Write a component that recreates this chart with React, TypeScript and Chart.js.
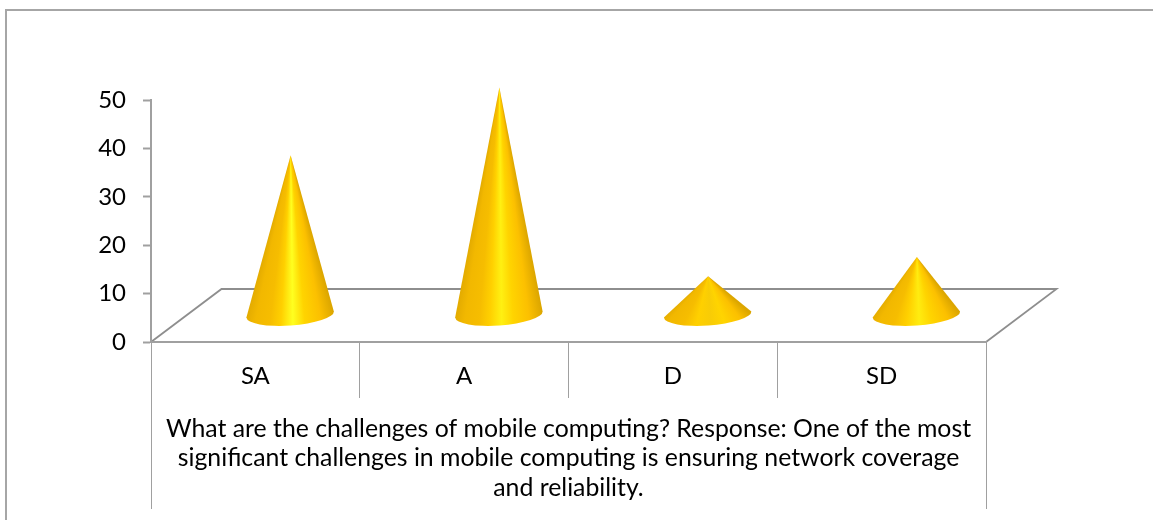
import React, { useEffect, useRef } from "react";
import { Chart, registerables } from "chart.js";

Chart.register(...registerables);

const categories = ["SA", "A", "D", "SD"];
const responses = [33, 47, 8, 12];
const coneHighlights = ["#ffff20", "#fff012", "#f8cc06", "#ffec10"];
const axisTitle = [
  "What are the challenges of mobile computing? Response: One of the most",
  "significant challenges in mobile computing is ensuring network coverage",
  "and reliability.",
];

const FONT = "Lato, Carlito, Calibri, sans-serif";
const AXIS_GRAY = "#a0a0a0";
const FLOOR_GRAY = "#8e8e8e";
const DEPTH_X = 70.5;
const DEPTH_Y = 53;

const conePlugin = {
  id: "cones",
  beforeDraw(chart: any) {
    const { ctx, width, height, chartArea: a } = chart;
    ctx.save();
    ctx.fillStyle = "#ffffff";
    ctx.fillRect(0, 0, width, height);
    // outer frame: top and left only
    ctx.strokeStyle = "#a6a6a6";
    ctx.lineWidth = 2;
    ctx.beginPath();
    ctx.moveTo(6, height);
    ctx.lineTo(6, 10);
    ctx.lineTo(width, 10);
    ctx.stroke();
    // floor
    ctx.strokeStyle = FLOOR_GRAY;
    ctx.lineWidth = 1.8;
    ctx.beginPath();
    ctx.moveTo(a.left, a.bottom);
    ctx.lineTo(a.left + DEPTH_X, a.bottom - DEPTH_Y);
    ctx.lineTo(a.right + DEPTH_X, a.bottom - DEPTH_Y);
    ctx.lineTo(a.right, a.bottom);
    ctx.stroke();
    // outer table lines
    ctx.strokeStyle = AXIS_GRAY;
    ctx.lineWidth = 1;
    ctx.beginPath();
    ctx.moveTo(Math.floor(a.left) + 0.5, a.bottom);
    ctx.lineTo(Math.floor(a.left) + 0.5, 509);
    ctx.moveTo(Math.floor(a.right) + 0.5, a.bottom);
    ctx.lineTo(Math.floor(a.right) + 0.5, 509);
    ctx.stroke();
    ctx.restore();
  },
  afterDatasetsDraw(chart: any) {
    const { ctx } = chart;
    const meta = chart.getDatasetMeta(0);
    meta.data.forEach((bar: any, i: number) => {
      const rx = bar.width / 2;
      const ry = 11;
      const tilt = (-4 * Math.PI) / 180;
      const cx = bar.x + DEPTH_X / 2 - 0.5;
      const lift = DEPTH_Y / 2 + 0.5;
      const baseY = bar.base - lift;
      const apexY = bar.y - lift;
      const dx = rx * Math.cos(tilt);
      const dy = rx * Math.sin(tilt);
      const apexX = cx + 0.5;
      // shading fans out from the apex, so the highlight narrows towards the tip
      const g = ctx.createConicGradient(0, apexX, apexY);
      const hi = coneHighlights[i];
      const shades: [number, string][] = [
        [0, "#e2aa00"],
        [0.12, "#f2b800"],
        [0.28, "#f6bd00"],
        [0.4, "#ffd000"],
        [0.53, hi],
        [0.66, "#ffd400"],
        [0.84, "#fcc000"],
        [1, "#dca600"],
      ];
      for (let k = shades.length - 1; k >= 0; k--) {
        const [t, color] = shades[k];
        const bx = cx - rx + 2 * rx * t;
        const ang = Math.atan2(baseY - apexY, bx - apexX);
        g.addColorStop(ang / (2 * Math.PI), color);
      }
      ctx.save();
      ctx.fillStyle = g;
      ctx.beginPath();
      ctx.moveTo(apexX, apexY);
      ctx.lineTo(cx + dx, baseY + dy);
      ctx.ellipse(cx, baseY, rx, ry, tilt, 0, Math.PI, false);
      ctx.closePath();
      ctx.fill();
      ctx.restore();
    });
  },
};

export default function App() {
  const ref = useRef<HTMLCanvasElement>(null);
  useEffect(() => {
    const chart = new Chart(ref.current!, {
      type: "bar",
      data: {
        labels: categories,
        datasets: [
          {
            label: "Responses",
            data: responses,
            backgroundColor: "rgba(0,0,0,0)",
            borderWidth: 0,
            categoryPercentage: 1,
            barPercentage: 0.42,
          },
        ],
      },
      plugins: [conePlugin],
      options: {
        responsive: false,
        animation: false,
        layout: { padding: { top: 100, right: 167, left: 0, bottom: 0 } },
        plugins: { legend: { display: false }, tooltip: { enabled: false }, title: { display: false } },
        scales: {
          y: {
            min: 0,
            max: 50,
            afterFit: (s: any) => {
              s.width = 151;
            },
            ticks: {
              stepSize: 10,
              color: "#000000",
              padding: 17,
              font: { family: FONT, size: 24 },
            },
            border: { display: true, color: AXIS_GRAY, width: 2 },
            grid: { drawOnChartArea: false, drawTicks: true, tickLength: 8, tickColor: AXIS_GRAY, tickWidth: 2 },
          },
          x: {
            afterFit: (s: any) => {
              s.height = 178;
            },
            ticks: {
              color: "#000000",
              padding: -36,
              maxRotation: 0,
              font: { family: FONT, size: 24 },
            },
            border: { display: true, color: AXIS_GRAY, width: 2 },
            grid: { drawOnChartArea: false, drawTicks: true, tickLength: 56, tickColor: AXIS_GRAY, tickWidth: 1 },
            title: {
              display: true,
              text: axisTitle,
              color: "#000000",
              padding: { top: 0, bottom: 17.5 },
              font: { family: FONT, size: 24.8, lineHeight: 29.5 / 24.8 },
            },
          },
        },
      },
    } as any);
    return () => chart.destroy();
  }, []);
  return (
    <canvas
      ref={ref}
      width={1153}
      height={520}
      style={{ position: "absolute", left: 0, top: 0, display: "block" }}
    />
  );
}
